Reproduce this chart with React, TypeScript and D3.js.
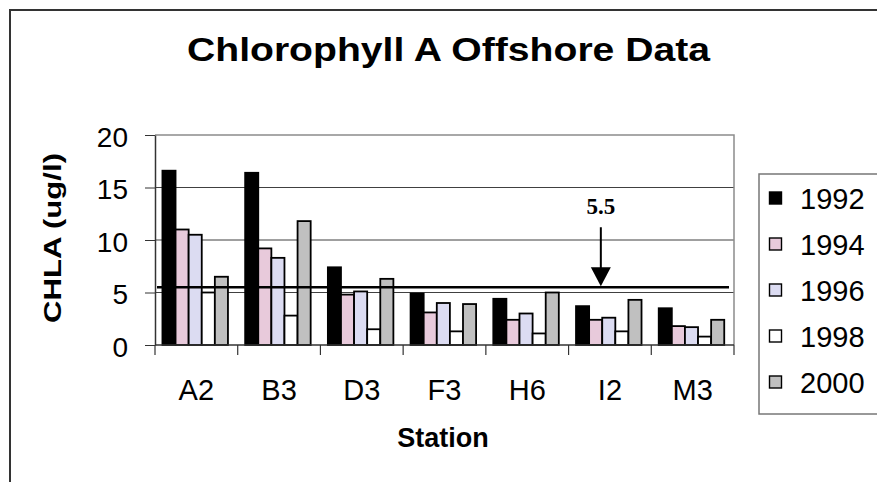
import { useEffect, useRef } from 'react';
import * as d3 from 'd3';

// stations and yearly series (ug/l)
const stations: string[] = ['A2', 'B3', 'D3', 'F3', 'H6', 'I2', 'M3'];
const years: string[] = ['1992', '1994', '1996', '1998', '2000'];
const v1992: number[] = [16.6, 16.4, 7.4, 4.9, 4.4, 3.7, 3.5];
const v1994: number[] = [11.0, 9.2, 4.8, 3.1, 2.4, 2.4, 1.8];
const v1996: number[] = [10.5, 8.3, 5.1, 4.0, 3.0, 2.6, 1.7];
const v1998: number[] = [5.0, 2.8, 1.5, 1.3, 1.1, 1.3, 0.8];
const v2000: number[] = [6.5, 11.8, 6.3, 3.9, 5.0, 4.3, 2.4];
const yTicks: number[] = [0, 5, 10, 15, 20];
const threshold = 5.5;

const fills: string[] = ['#000000', '#e8cadb', '#dcdcf2', '#ffffff', '#c0c0c0'];

const App: React.FC = () => {
  const svgRef = useRef<SVGSVGElement | null>(null);

  useEffect(() => {
    if (!svgRef.current) return;
    const svg = d3.select(svgRef.current);
    svg.selectAll('*').remove();

    const series = [v1992, v1994, v1996, v1998, v2000];
    const left = 155;
    const right = 734;
    const top = 135;
    const bottom = 345;
    const sans = 'Liberation Sans, Arial, sans-serif';

    const x = d3.scaleBand<string>().domain(stations).range([left, right]).padding(0);
    const bw = x.bandwidth();
    const xi = d3.scaleBand<string>().domain(years).range([bw * 0.09, bw * 0.882]).padding(0);
    const y = d3.scaleLinear().domain([0, 20]).range([bottom, top]);

    // outer chart border
    svg.append('rect')
      .attr('x', 10).attr('y', 10).attr('width', 1000).attr('height', 1000)
      .attr('fill', 'none').attr('stroke', '#333').attr('stroke-width', 2);

    // title
    svg.append('text')
      .attr('x', 448.5).attr('y', 60.5)
      .attr('text-anchor', 'middle')
      .attr('font-family', sans).attr('font-weight', 'bold').attr('font-size', 32.5)
      .attr('textLength', 523).attr('lengthAdjust', 'spacingAndGlyphs')
      .text('Chlorophyll A Offshore Data');

    // gridlines
    svg.append('g')
      .selectAll('line')
      .data(yTicks.filter((t) => t > 0 && t < 20))
      .enter()
      .append('line')
      .attr('x1', left).attr('x2', right)
      .attr('y1', (d) => y(d)).attr('y2', (d) => y(d))
      .attr('stroke', '#404040').attr('stroke-width', 1);

    // plot area top / right border
    svg.append('path')
      .attr('d', `M${left},${y(20)}H${right}V${bottom}`)
      .attr('fill', 'none').attr('stroke', '#8c8c8c').attr('stroke-width', 1.5);

    // bars
    series.forEach((vals, si) => {
      svg.append('g')
        .selectAll('rect')
        .data(vals)
        .enter()
        .append('rect')
        .attr('x', (_d, i) => (x(stations[i]) ?? 0) + (xi(years[si]) ?? 0))
        .attr('y', (d) => y(d))
        .attr('width', xi.bandwidth())
        .attr('height', (d) => bottom - y(d))
        .attr('fill', fills[si])
        .attr('stroke', '#000').attr('stroke-width', 1.8);
    });

    // axes
    const yAxis = svg.append('g').attr('transform', `translate(${left},0)`)
      .call(d3.axisLeft(y).tickValues(yTicks).tickSize(10).tickSizeOuter(0).tickPadding(17));
    yAxis.select('.domain').attr('stroke', '#333').attr('stroke-width', 1.5);
    yAxis.selectAll('.tick line').attr('stroke', '#333');
    yAxis.selectAll('text')
      .attr('font-family', sans).attr('font-size', 28).attr('fill', '#000')
      .attr('dy', 11);

    const xAxis = svg.append('g').attr('transform', `translate(0,${bottom})`)
      .call(d3.axisBottom(x).tickSize(0).tickPadding(0));
    xAxis.select('.domain').remove();
    xAxis.selectAll('text')
      .attr('font-family', sans).attr('font-size', 29).attr('fill', '#000')
      .attr('dy', 55);
    svg.append('line')
      .attr('x1', left).attr('x2', right).attr('y1', bottom).attr('y2', bottom)
      .attr('stroke', '#333').attr('stroke-width', 1.5);
    svg.append('g')
      .selectAll('line')
      .data([...stations.map((s) => x(s) ?? 0), right])
      .enter()
      .append('line')
      .attr('x1', (d) => d).attr('x2', (d) => d)
      .attr('y1', bottom).attr('y2', bottom + 10)
      .attr('stroke', '#333').attr('stroke-width', 1.2);

    // axis titles
    svg.append('text')
      .attr('transform', `translate(61,238) rotate(-90)`)
      .attr('text-anchor', 'middle')
      .attr('font-family', sans).attr('font-weight', 'bold').attr('font-size', 24)
      .attr('textLength', 170).attr('lengthAdjust', 'spacingAndGlyphs')
      .text('CHLA (ug/l)');
    svg.append('text')
      .attr('x', 443).attr('y', 447)
      .attr('text-anchor', 'middle')
      .attr('font-family', sans).attr('font-weight', 'bold').attr('font-size', 27)
      .text('Station');

    // 5.5 threshold line and arrow
    svg.append('line')
      .attr('x1', left + 2).attr('x2', right - 5)
      .attr('y1', y(threshold)).attr('y2', y(threshold))
      .attr('stroke', '#000').attr('stroke-width', 2.5);
    const ax = (x('I2') ?? 0) + bw * 0.39;
    const tip = y(threshold) - 1;
    svg.append('line')
      .attr('x1', ax).attr('x2', ax).attr('y1', tip - 59).attr('y2', tip - 15)
      .attr('stroke', '#000').attr('stroke-width', 2);
    svg.append('path')
      .attr('d', `M${ax - 10},${tip - 19}L${ax + 10},${tip - 19}L${ax},${tip}Z`)
      .attr('fill', '#000');
    svg.append('text')
      .attr('x', ax).attr('y', tip - 72)
      .attr('text-anchor', 'middle')
      .attr('font-family', 'Liberation Serif, Times New Roman, serif')
      .attr('font-weight', 'bold').attr('font-size', 23)
      .text(String(threshold));

    // legend
    const lg = svg.append('g');
    lg.append('rect')
      .attr('x', 759).attr('y', 174).attr('width', 200).attr('height', 240)
      .attr('fill', '#fff').attr('stroke', '#777').attr('stroke-width', 1.5);
    const rows = lg.selectAll('g.row')
      .data(years)
      .enter()
      .append('g')
      .attr('class', 'row')
      .attr('transform', (_d, i) => `translate(0,${209 + i * 46})`);
    rows.append('rect')
      .attr('x', 769.5).attr('y', -17).attr('width', 12).attr('height', 12)
      .attr('fill', (_d, i) => fills[i])
      .attr('stroke', '#000').attr('stroke-width', 1.4);
    rows.append('text')
      .attr('x', 800).attr('y', 0)
      .attr('font-family', sans).attr('font-size', 29)
      .text((d) => d);
  }, []);

  return (
    <svg
      ref={svgRef}
      width={877}
      height={482}
      style={{ position: 'absolute', left: 0, top: 0, background: '#fff' }}
    />
  );
};

export default App;
